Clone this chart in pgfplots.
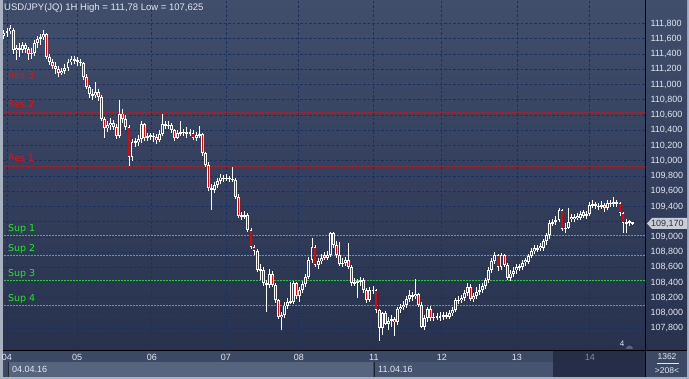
\documentclass[border=0pt]{standalone}
\usepackage{pgfplots}
\pgfplotsset{compat=1.18}
\usepackage{pgfplotstable}
\usepackage{fontspec}
\setmainfont{Liberation Sans}
\newfontfamily\dejavu{DejaVu Sans}
\definecolor{border}{RGB}{168,177,192}
\definecolor{bgtop}{RGB}{64,78,108}
\definecolor{bgbot}{RGB}{40,50,78}
\definecolor{bgmid}{RGB}{50,62,92}
\definecolor{gridc}{RGB}{26,50,98}
\definecolor{resred}{RGB}{205,20,20}
\definecolor{supgreen}{RGB}{40,205,40}
\definecolor{txtred}{RGB}{245,10,10}
\definecolor{txtgreen}{RGB}{30,235,30}
\definecolor{lbl}{RGB}{226,231,240}
\definecolor{lblgray}{RGB}{125,138,163}
\definecolor{striptop}{RGB}{60,73,100}
\definecolor{stripa}{RGB}{86,100,126}
\definecolor{stripb}{RGB}{70,84,112}
\definecolor{striphi}{RGB}{37,46,70}
\definecolor{candred}{RGB}{235,0,0}
\definecolor{tagbg}{RGB}{201,205,213}
\definecolor{tagtxt}{RGB}{40,48,64}
\definecolor{markg}{RGB}{90,100,120}

\pgfplotstableread{
i o h l c
-1 111.64 111.72 111.60 111.68
0 111.68 111.74 111.62 111.70
1 111.70 111.78 111.66 111.74
2 111.72 111.74 111.40 111.45
3 111.45 111.52 111.32 111.48
4 111.48 111.55 111.36 111.46
5 111.46 111.56 111.42 111.52
6 111.52 111.54 111.42 111.47
7 111.47 111.50 111.32 111.40
8 111.40 111.48 111.34 111.42
9 111.42 111.58 111.38 111.55
10 111.55 111.64 111.48 111.60
11 111.60 111.67 111.52 111.62
12 111.62 111.72 111.58 111.66
13 111.66 111.68 111.34 111.36
14 111.36 111.40 111.26 111.30
15 111.30 111.34 111.20 111.25
16 111.25 111.30 111.14 111.20
17 111.20 111.24 111.10 111.15
18 111.15 111.22 111.12 111.18
19 111.18 111.27 111.14 111.22
20 111.22 111.34 111.18 111.30
21 111.30 111.38 111.26 111.33
22 111.33 111.38 111.27 111.32
23 111.32 111.36 111.24 111.30
24 111.30 111.34 111.24 111.28
25 111.28 111.30 111.06 111.10
26 111.10 111.14 110.94 110.97
27 110.97 111.00 110.82 110.88
28 110.88 110.94 110.80 110.86
29 110.86 111.04 110.82 110.90
30 110.90 110.94 110.78 110.84
31 110.84 110.86 110.52 110.55
32 110.55 110.58 110.30 110.43
33 110.43 110.52 110.38 110.47
34 110.47 110.56 110.40 110.50
35 110.50 110.53 110.40 110.45
36 110.45 110.48 110.28 110.32
37 110.32 110.80 110.30 110.62
38 110.62 110.68 110.50 110.55
39 110.55 110.60 110.40 110.44
40 110.44 110.47 109.93 110.05
41 110.05 110.28 110.00 110.25
42 110.25 110.30 110.18 110.25
43 110.25 110.34 110.20 110.28
44 110.28 110.52 110.24 110.48
45 110.48 110.50 110.26 110.30
46 110.30 110.36 110.26 110.32
47 110.32 110.37 110.27 110.33
48 110.33 110.36 110.24 110.31
49 110.31 110.35 110.22 110.27
50 110.27 110.40 110.25 110.35
51 110.35 110.62 110.33 110.48
52 110.48 110.52 110.42 110.46
53 110.46 110.52 110.42 110.47
54 110.47 110.49 110.36 110.40
55 110.40 110.42 110.26 110.30
56 110.30 110.40 110.28 110.36
57 110.36 110.52 110.33 110.38
58 110.38 110.42 110.32 110.37
59 110.37 110.44 110.30 110.36
60 110.36 110.42 110.32 110.37
61 110.37 110.40 110.27 110.30
62 110.30 110.38 110.26 110.34
63 110.34 110.46 110.30 110.35
64 110.35 110.36 110.06 110.10
65 110.10 110.12 109.92 109.95
66 109.95 109.98 109.60 109.64
67 109.64 109.70 109.35 109.62
68 109.62 109.72 109.58 109.68
69 109.68 109.78 109.64 109.74
70 109.74 109.82 109.70 109.78
71 109.78 109.81 109.72 109.76
72 109.76 109.82 109.73 109.78
73 109.78 109.80 109.72 109.76
74 109.76 109.92 109.72 109.75
75 109.75 109.77 109.50 109.53
76 109.53 109.56 109.25 109.28
77 109.28 109.33 109.22 109.27
78 109.27 109.34 109.24 109.29
79 109.29 109.31 109.06 109.09
80 109.09 109.12 108.84 108.87
81 108.87 108.90 108.76 108.82
82 108.82 108.84 108.54 108.57
83 108.57 108.64 108.43 108.57
84 108.57 108.60 108.36 108.39
85 108.39 108.44 108.02 108.37
86 108.37 108.58 108.33 108.52
87 108.52 108.56 108.34 108.37
88 108.37 108.39 108.14 108.17
89 108.17 108.19 107.92 107.95
90 107.95 108.02 107.78 107.98
91 107.98 108.14 107.94 108.10
92 108.10 108.20 108.06 108.15
93 108.15 108.41 108.12 108.15
94 108.15 108.42 108.12 108.39
95 108.39 108.41 108.18 108.22
96 108.22 108.34 108.14 108.30
97 108.30 108.42 108.27 108.38
98 108.38 108.52 108.34 108.48
99 108.48 108.74 108.45 108.70
100 108.70 108.99 108.66 108.87
101 108.87 108.90 108.60 108.63
102 108.63 108.72 108.58 108.68
103 108.68 108.78 108.64 108.72
104 108.76 108.80 108.70 108.73
105 108.73 108.82 108.70 108.76
106 108.76 109.07 108.74 109.05
107 109.05 109.06 108.86 108.90
108 108.90 108.95 108.72 108.76
109 108.76 108.94 108.62 108.65
110 108.65 108.72 108.60 108.66
111 108.66 108.74 108.62 108.70
112 108.70 108.92 108.58 108.61
113 108.61 108.63 108.36 108.39
114 108.39 108.46 108.35 108.41
115 108.41 108.45 108.20 108.42
116 108.42 108.48 108.36 108.43
117 108.43 108.46 108.27 108.30
118 108.30 108.33 108.14 108.17
119 108.17 108.34 108.14 108.30
120 108.30 108.36 108.25 108.30
121 108.30 108.32 108.00 108.04
122 108.04 108.06 107.63 107.80
123 107.80 108.02 107.72 108.00
124 108.00 108.03 107.84 107.86
125 107.86 107.95 107.78 107.90
126 107.90 107.98 107.82 107.92
127 107.92 107.95 107.70 107.88
128 107.88 108.08 107.84 108.05
129 108.05 108.12 108.00 108.08
130 108.08 108.16 108.04 108.11
131 108.11 108.22 108.07 108.18
132 108.18 108.30 108.14 108.24
133 108.24 108.28 108.16 108.22
134 108.22 108.45 108.18 108.25
135 108.25 108.27 108.08 108.11
136 108.11 108.14 107.80 107.82
137 107.82 107.98 107.78 107.94
138 107.94 108.08 107.88 108.06
139 108.06 108.09 107.90 107.94
140 107.94 108.00 107.90 107.95
141 107.95 108.00 107.91 107.96
142 107.96 108.02 107.90 107.95
143 107.95 108.01 107.91 107.97
144 107.97 108.02 107.92 107.95
145 107.95 108.04 107.92 108.00
146 108.00 108.08 107.96 108.04
147 108.04 108.20 108.02 108.17
148 108.17 108.22 108.12 108.17
149 108.17 108.24 108.13 108.20
150 108.20 108.30 108.16 108.26
151 108.26 108.40 108.22 108.35
152 108.35 108.38 108.16 108.19
153 108.19 108.26 108.15 108.22
154 108.22 108.34 108.18 108.28
155 108.28 108.38 108.24 108.30
156 108.30 108.40 108.26 108.36
157 108.36 108.46 108.32 108.43
158 108.43 108.60 108.40 108.57
159 108.57 108.72 108.53 108.68
160 108.68 108.80 108.64 108.76
161 108.76 108.78 108.56 108.60
162 108.60 108.79 108.57 108.76
163 108.76 108.78 108.60 108.63
164 108.63 108.66 108.44 108.46
165 108.46 108.56 108.42 108.52
166 108.52 108.60 108.48 108.56
167 108.56 108.64 108.52 108.60
168 108.60 108.65 108.55 108.61
169 108.61 108.70 108.57 108.66
170 108.70 108.73 108.62 108.67
171 108.67 108.78 108.64 108.75
172 108.75 108.86 108.72 108.81
173 108.81 108.90 108.78 108.85
174 108.85 108.90 108.80 108.84
175 108.88 108.92 108.82 108.85
176 108.85 108.98 108.82 108.95
177 108.95 109.05 108.90 109.02
178 109.02 109.22 108.98 109.18
179 109.18 109.24 109.14 109.20
180 109.20 109.27 109.16 109.22
181 109.22 109.38 109.19 109.35
182 109.35 109.37 109.08 109.11
183 109.11 109.18 109.05 109.12
184 109.12 109.38 109.10 109.20
185 109.26 109.30 109.20 109.23
186 109.23 109.30 109.20 109.26
187 109.28 109.32 109.22 109.25
188 109.25 109.34 109.22 109.30
189 109.33 109.36 109.25 109.28
190 109.28 109.34 109.24 109.30
191 109.30 109.46 109.27 109.42
192 109.42 109.48 109.38 109.42
193 109.43 109.46 109.37 109.41
194 109.41 109.45 109.35 109.40
195 109.40 109.47 109.37 109.42
196 109.42 109.45 109.33 109.38
197 109.38 109.48 109.35 109.44
198 109.44 109.49 109.40 109.44
199 109.44 109.52 109.40 109.45
200 109.45 109.49 109.40 109.44
201 109.44 109.46 109.28 109.31
202 109.31 109.33 109.05 109.18
203 109.18 109.24 109.05 109.20
204 109.20 109.22 109.14 109.19
205 109.19 109.20 109.16 109.17
}\candles

\begin{document}
\begin{tikzpicture}
% frame and panels
\path[use as bounding box] (0pt,0pt) rectangle (689pt,379pt);
\fill[border] (0pt,0pt) rectangle (689pt,379pt);
\shade[top color=bgtop, bottom color=bgbot] (3pt,29pt) rectangle (645pt,379pt);
\shade[top color=bgtop, bottom color=bgbot] (646pt,29pt) rectangle (687pt,379pt);
\fill[striptop] (3pt,2pt) rectangle (687pt,28.5pt);
\fill[stripa] (8pt,2pt) rectangle (373pt,17pt);
\fill[stripb] (375pt,2pt) rectangle (553pt,17pt);
\fill[striphi] (553pt,2pt) rectangle (645pt,28.5pt);
\draw[black, line width=1pt] (3pt,28.5pt) -- (687pt,28.5pt);
\draw[black, line width=1pt] (645.5pt,2pt) -- (645.5pt,379pt);
\draw[black!60!stripa, line width=0.8pt] (8pt,2pt) -- (8pt,17pt);
\draw[black!60!stripb, line width=0.8pt] (374pt,2pt) -- (374pt,17pt);

\begin{axis}[
  at={(3pt,29pt)}, anchor=south west,
  scale only axis, width=642pt, height=350pt,
  xmin=-1.3, xmax=209.2, ymin=107.516, ymax=112.11,
  axis line style={draw=none},
  major tick length=0pt,
  xtick={0,23,47.5,71.8,95.7,120.3,142.6,167.2,191.1},
  xticklabels={04,05,06,07,08,11,12,13,{\color{lblgray}14}},
  xticklabel style={font=\fontsize{9}{10}\selectfont, text=lbl, anchor=north, yshift=-1pt},
  ytick={107.8,108.0,108.2,108.4,108.6,108.8,109.0,109.4,109.6,109.8,110.0,110.2,110.4,110.6,110.8,111.0,111.2,111.4,111.6,111.8},
  extra y ticks={109.2}, extra y tick labels={},
  extra y tick style={ymajorgrids=true},
  yticklabel pos=right,
  yticklabel style={font=\fontsize{9}{10}\selectfont, text=lbl, anchor=west, xshift=2pt,
    /pgf/number format/.cd, fixed, fixed zerofill, precision=3, use comma, 1000 sep={}, assume math mode=true},
  xmajorgrids, ymajorgrids,
  grid style={draw=gridc, line width=0.8pt, dash pattern=on 2.5pt off 2pt},
  clip=true,
]
% resistance / support
\addplot[resred, line width=0.8pt, dash pattern=on 2pt off 1pt] coordinates {(-2,111.99) (210,111.99)};
\addplot[resred, line width=0.8pt, dash pattern=on 2pt off 1pt] coordinates {(-2,111.016) (210,111.016)};
\addplot[resred, line width=0.8pt, dash pattern=on 2pt off 1pt] coordinates {(-2,110.63) (210,110.63)};
\addplot[resred, line width=0.8pt, dash pattern=on 2pt off 1pt] coordinates {(-2,109.93) (210,109.93)};
\addplot[supgreen, line width=0.8pt, dash pattern=on 2pt off 1pt] coordinates {(-2,109.021) (210,109.021)};
\addplot[supgreen, line width=0.8pt, dash pattern=on 2pt off 1pt] coordinates {(-2,108.759) (210,108.759)};
\addplot[supgreen, line width=0.8pt, dash pattern=on 2pt off 1pt] coordinates {(-2,108.43) (210,108.43)};
\addplot[supgreen, line width=0.8pt, dash pattern=on 2pt off 1pt] coordinates {(-2,108.106) (210,108.106)};
% wicks
\addplot[draw=none, mark=none, error bars/.cd, y dir=both, y explicit, error mark=none,
  error bar style={draw=white, line width=0.9pt}]
  table[x=i, y expr={(\thisrow{h}+\thisrow{l})/2}, y error expr={(\thisrow{h}-\thisrow{l})/2}] {\candles};
% bodies
\addplot[draw=none, mark=none, error bars/.cd, y dir=both, y explicit, error mark=none,
  error bar style={draw=white, line width=2.9pt}]
  table[x=i, y expr={(\thisrow{o}+\thisrow{c})/2}, y error expr={max(abs(\thisrow{o}-\thisrow{c})/2,0.008)}] {\candles};
% down candles red inside
\addplot[draw=none, mark=none, restrict expr to domain={\thisrow{o}-\thisrow{c}}{0.0001:100},
  error bars/.cd, y dir=both, y explicit, error mark=none,
  error bar style={draw=candred, line width=1.1pt}]
  table[x=i, y expr={(\thisrow{o}+\thisrow{c})/2}, y error expr={max((\thisrow{o}-\thisrow{c})/2-0.013,0)}] {\candles};
% up candles hollow
\addplot[draw=none, mark=none, restrict expr to domain={\thisrow{c}-\thisrow{o}}{0.0001:100},
  error bars/.cd, y dir=both, y explicit, error mark=none,
  error bar style={draw=bgmid, line width=0.9pt}]
  table[x=i, y expr={(\thisrow{o}+\thisrow{c})/2}, y error expr={max((\thisrow{c}-\thisrow{o})/2-0.013,0)}] {\candles};
% labels
\node[anchor=base west, text=txtred, font=\dejavu\fontsize{9.5}{10}\selectfont, inner sep=0pt] at (axis cs:0.3,111.016) [yshift=5pt] {Res 3};
\node[anchor=base west, text=txtred, font=\dejavu\fontsize{9.5}{10}\selectfont, inner sep=0pt] at (axis cs:0.3,110.63) [yshift=5pt] {Res 2};
\node[anchor=base west, text=txtred, font=\dejavu\fontsize{9.5}{10}\selectfont, inner sep=0pt] at (axis cs:0.3,109.93) [yshift=5pt] {Res 1};
\node[anchor=base west, text=txtgreen, font=\dejavu\fontsize{9.5}{10}\selectfont, inner sep=0pt] at (axis cs:0.3,109.021) [yshift=4pt] {Sup 1};
\node[anchor=base west, text=txtgreen, font=\dejavu\fontsize{9.5}{10}\selectfont, inner sep=0pt] at (axis cs:0.3,108.759) [yshift=4pt] {Sup 2};
\node[anchor=base west, text=txtgreen, font=\dejavu\fontsize{9.5}{10}\selectfont, inner sep=0pt] at (axis cs:0.3,108.43) [yshift=4pt] {Sup 3};
\node[anchor=base west, text=txtgreen, font=\dejavu\fontsize{9.5}{10}\selectfont, inner sep=0pt] at (axis cs:0.3,108.106) [yshift=4pt] {Sup 4};
\end{axis}

% title
\node[anchor=west, inner sep=0pt, text=lbl, font=\fontsize{9.5}{11}\selectfont] at (4pt,371pt) {USD/JPY(JQ) 1H High = 111,78 Low = 107,625};
% price tag
\fill[tagbg] (647pt,155.5pt) -- (652pt,161pt) -- (687pt,161pt) -- (687pt,150pt) -- (652pt,150pt) -- cycle;
\node[anchor=west, inner sep=0pt, text=tagtxt, font=\fontsize{9}{10}\selectfont] at (651pt,155.5pt) {109,170};
% small marker
\fill[markg] (626pt,30pt) arc (180:0:3.5pt) -- cycle;
\node[anchor=center, inner sep=0pt, text=lbl, font=\fontsize{8}{9}\selectfont] at (622pt,35pt) {4};
% bottom texts
\node[anchor=west, inner sep=0pt, text=lbl, font=\fontsize{9}{10}\selectfont] at (12pt,9.5pt) {04.04.16};
\node[anchor=west, inner sep=0pt, text=lbl, font=\fontsize{9}{10}\selectfont] at (378pt,9.5pt) {11.04.16};
\node[anchor=center, inner sep=0pt, text=lbl, font=\fontsize{8.5}{9}\selectfont] at (667pt,22pt) {1362};
\draw[lbl, line width=0.5pt] (657pt,16pt) -- (679pt,16pt);
\node[anchor=center, inner sep=0pt, text=lbl, font=\fontsize{8.5}{9}\selectfont] at (667pt,8.5pt) {>208<};
\end{tikzpicture}
\end{document}
